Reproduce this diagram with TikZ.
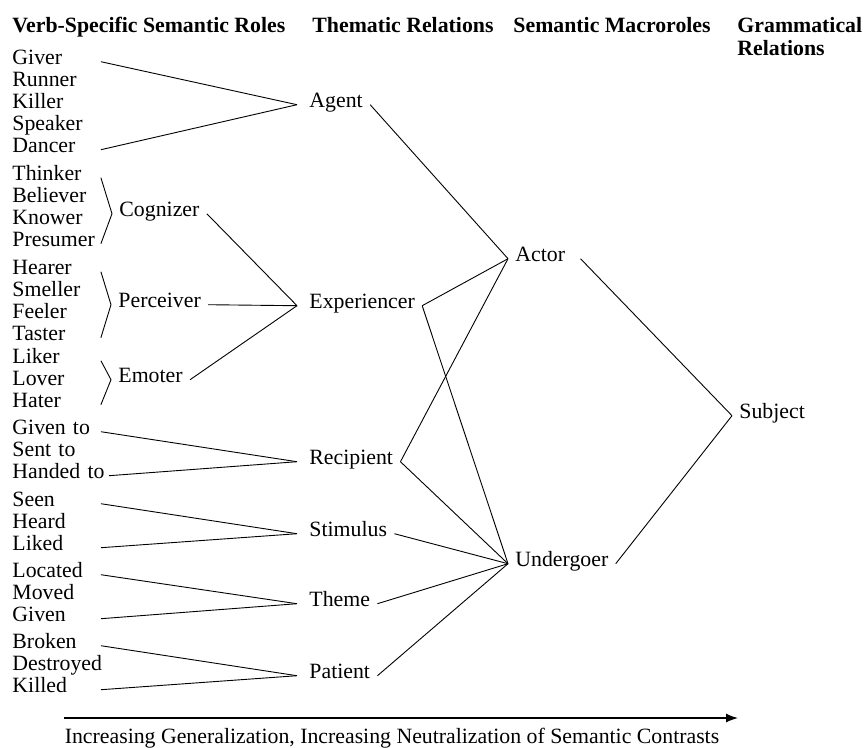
\documentclass[tikz,border=0pt]{standalone}
\usepackage{fontspec}
\setmainfont{Liberation Serif}
\usepackage{tikz}
\usetikzlibrary{arrows.meta}

\newcommand\diafont{\fontsize{21.8}{22}\selectfont}
\newcommand\headfont{\fontsize{21.8}{23}\selectfont\bfseries}

\begin{document}
\begin{tikzpicture}[x=1pt,y=-1pt,line width=0.9pt,
                    word/.style={anchor=base west,inner sep=0pt,text width=88pt,align=left,font=\diafont},
                    role/.style={anchor=base west,inner xsep=7pt,inner ysep=0pt,font=\diafont},
                    head/.style={anchor=base west,inner sep=0pt,font=\headfont}]
  \useasboundingbox (0,0) rectangle (864,747);

  % column headings
  \node[head] (h1) at (12,32) {Verb-Specific Semantic Roles};
  \node[head] (h2) at (312,32) {Thematic Relations};
  \node[head] (h3) at (513,32) {Semantic Macroroles};
  \node[head,align=left] (h4) at (737,55) {Grammatical\\Relations};

  % verb-specific roles
  \node[word] (giver) at (12,64) {Giver};
  \node[word] (runner) at (12,86) {Runner};
  \node[word] (killer) at (12,108) {Killer};
  \node[word] (speaker) at (12,130) {Speaker};
  \node[word] (dancer) at (12,152) {Dancer};
  \node[word] (thinker) at (12,180) {Thinker};
  \node[word] (believer) at (12,202) {Believer};
  \node[word] (knower) at (12,224) {Knower};
  \node[word] (presumer) at (12,246) {Presumer};
  \node[word] (hearer) at (12,274) {Hearer};
  \node[word] (smeller) at (12,296) {Smeller};
  \node[word] (feeler) at (12,318) {Feeler};
  \node[word] (taster) at (12,340) {Taster};
  \node[word] (liker) at (12,363) {Liker};
  \node[word] (lover) at (12,385) {Lover};
  \node[word] (hater) at (12,407) {Hater};
  \node[word] (givento) at (12,434) {Given to};
  \node[word] (sentto) at (12,456) {Sent to};
  \node[word,text width=96pt] (handedto) at (12,478) {Handed to};
  \node[word] (seen) at (12,506) {Seen};
  \node[word] (heard) at (12,528) {Heard};
  \node[word] (liked) at (12,550) {Liked};
  \node[word] (located) at (12,577) {Located};
  \node[word] (moved) at (12,599) {Moved};
  \node[word] (given) at (12,621) {Given};
  \node[word] (broken) at (12,648) {Broken};
  \node[word] (destroyed) at (12,670) {Destroyed};
  \node[word] (killed) at (12,692) {Killed};

  % grouped roles
  \node[role] (cognizer) at (112,216) {Cognizer};
  \node[role] (perceiver) at (111,307) {Perceiver};
  \node[role] (emoter) at (111,382) {Emoter};

  % thematic relations
  \node[role] (agent) at (302,107) {Agent};
  \node[role] (experiencer) at (302,308) {Experiencer};
  \node[role] (recipient) at (302,464) {Recipient};
  \node[role] (stimulus) at (302,536) {Stimulus};
  \node[role] (theme) at (302,606) {Theme};
  \node[role] (patient) at (302,678) {Patient};

  % macroroles and grammatical relation
  \node[role] (actor) at (508,261) {Actor};
  \node[role,inner xsep=7pt] (undergoer) at (508,566) {Undergoer};
  \node[role] (subject) at (732,418) {Subject};

  \draw (thinker.mid east) -- (cognizer.mid west) -- (presumer.mid east);
  \draw (hearer.mid east) -- (perceiver.mid west) -- (taster.mid east);
  \draw (liker.mid east) -- (emoter.mid west) -- (hater.mid east);

  \path[draw]
    (giver.mid east) edge ([xshift=-5pt]agent.mid west)
    (dancer.mid east) edge ([xshift=-5pt]agent.mid west)
    (cognizer.mid east) edge ([xshift=-5pt]experiencer.mid west)
    (perceiver.mid east) edge ([xshift=-5pt]experiencer.mid west)
    (emoter.mid east) edge ([xshift=-5pt]experiencer.mid west)
    (givento.mid east) edge ([xshift=-5pt]recipient.mid west)
    (handedto.mid east) edge ([xshift=-5pt]recipient.mid west)
    (seen.mid east) edge ([xshift=-5pt]stimulus.mid west)
    (liked.mid east) edge ([xshift=-5pt]stimulus.mid west)
    (located.mid east) edge ([xshift=-5pt]theme.mid west)
    (given.mid east) edge ([xshift=-5pt]theme.mid west)
    (broken.mid east) edge ([xshift=-5pt]patient.mid west)
    (killed.mid east) edge ([xshift=-5pt]patient.mid west)
    (agent.mid east) edge (actor.mid west)
    (experiencer.mid east) edge (actor.mid west)
    (experiencer.mid east) edge (undergoer.mid west)
    (recipient.mid east) edge (actor.mid west)
    (recipient.mid east) edge (undergoer.mid west)
    (stimulus.mid east) edge (undergoer.mid west)
    (theme.mid east) edge (undergoer.mid west)
    (patient.mid east) edge (undergoer.mid west)
    ([xshift=8pt]actor.mid east) edge (subject.mid west)
    (undergoer.mid east) edge (subject.mid west)
    ;

  % generalization axis
  \coordinate (axisstart) at (64,718);
  \coordinate (axisend) at (738,718);
  \draw[line width=1.3pt,-{Latex[length=12pt,width=9pt]}] (axisstart) -- (axisend);
  \node[anchor=base,inner sep=0pt,font=\diafont] (caption) at (392,743)
    {Increasing Generalization, Increasing Neutralization of Semantic Contrasts};
\end{tikzpicture}
\end{document}
